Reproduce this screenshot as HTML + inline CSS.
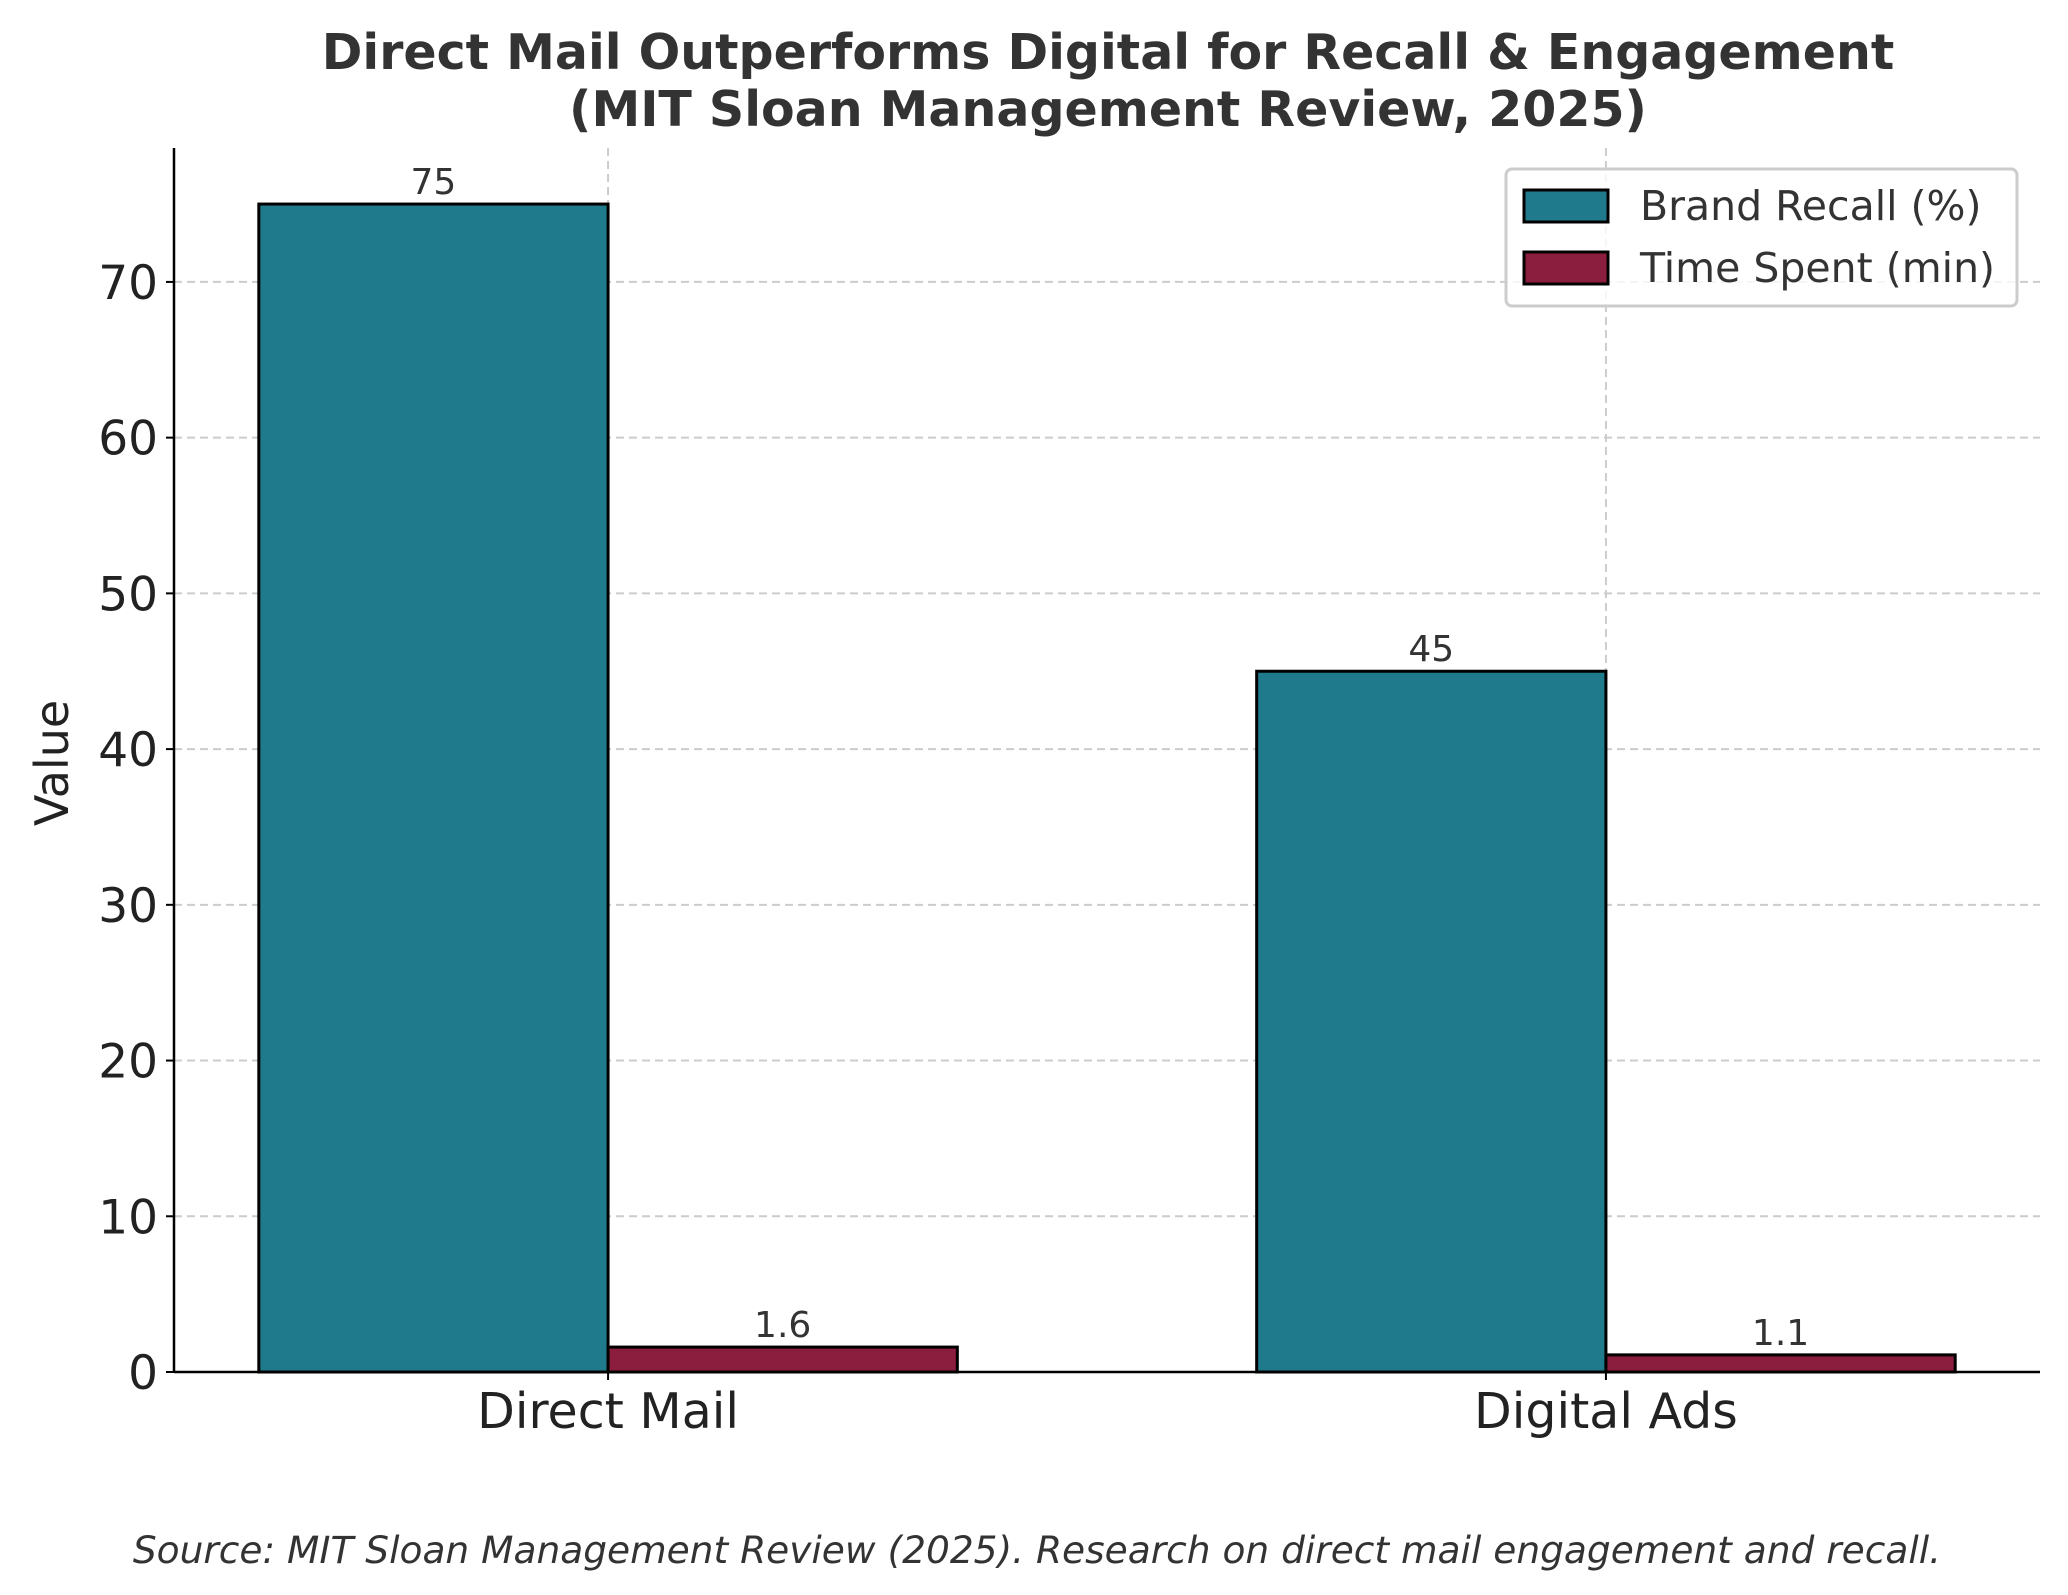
<!DOCTYPE html>
<html><head><meta charset="utf-8"><style>
body{margin:0;background:#fff}
svg{display:block;font-family:"DejaVu Sans","Liberation Sans",sans-serif}
</style></head><body>
<svg id="chart" width="2068" height="1595" viewBox="0 0 2068 1595">
<g>
<text x="1108" y="69" text-anchor="middle" font-size="49" font-weight="bold" fill="#333">Direct Mail Outperforms Digital for Recall &amp; Engagement</text>
<text x="1108" y="126" text-anchor="middle" font-size="49" font-weight="bold" fill="#333">(MIT Sloan Management Review, 2025)</text>
</g>
<g id="grid"></g>
<g id="bars"></g>
<g id="axes"></g>
<text x="68" y="763" transform="rotate(-90 68 763)" text-anchor="middle" font-size="46" fill="#222">Value</text>
<g>
<rect x="1506" y="169" width="511" height="137" rx="6" fill="#fff" fill-opacity="0.8" stroke="#ccc" stroke-width="3"/>
<rect x="1524" y="190" width="84" height="32" fill="#1f7a8c" stroke="#000" stroke-width="3"/>
<text x="1640" y="220" font-size="41" fill="#333">Brand Recall (%)</text>
<rect x="1524" y="252" width="84" height="32" fill="#8b1e3f" stroke="#000" stroke-width="3"/>
<text x="1640" y="282" font-size="41" fill="#333">Time Spent (min)</text>
</g>
<text x="1037" y="1563" text-anchor="middle" font-size="37.5" font-style="italic" fill="#333">Source: MIT Sloan Management Review (2025). Research on direct mail engagement and recall.</text>
</svg>
<script>
const categories = ["Direct Mail", "Digital Ads"];
const brandRecall = [75, 45];
const timeSpent = [1.6, 1.1];
const yTicks = [0, 10, 20, 30, 40, 50, 60, 70];

const NS = "http://www.w3.org/2000/svg";
const L = 174, R = 2040, T = 148, B = 1372;
const xMin = -0.435, xMax = 1.435, yMax = 78.6;
const xs = v => L + (v - xMin) / (xMax - xMin) * (R - L);
const ys = v => B - v / yMax * (B - T);
function mk(tag, attrs, parent) {
  const e = document.createElementNS(NS, tag);
  for (const k in attrs) e.setAttribute(k, attrs[k]);
  parent.appendChild(e);
  return e;
}
const grid = document.getElementById("grid");
const bars = document.getElementById("bars");
const axes = document.getElementById("axes");
yTicks.forEach(t => {
  const g = mk("line", {x1: L, x2: R, y1: ys(t), y2: ys(t), stroke: "#ccc", "stroke-width": 2, "stroke-dasharray": "8,5"}, grid);
  
  
  const tk = mk("line", {x1: L - 8, x2: L, y1: ys(t), y2: ys(t), stroke: "#000", "stroke-width": 2}, axes);
  
  
  const lb = mk("text", {x: L - 16, y: ys(t) + 17, "text-anchor": "end", "font-size": 47, fill: "#222"}, axes);
  lb.textContent = t;
  
  
});
categories.forEach((c, i) => {
  const g = mk("line", {x1: xs(i), x2: xs(i), y1: T, y2: B, stroke: "#ccc", "stroke-width": 2, "stroke-dasharray": "8,5"}, grid);
  
  
  const w = 0.35;
  const specs = [[brandRecall[i], i - w, "#1f7a8c", "bar-brand-recall", String(brandRecall[i])],
                 [timeSpent[i], i, "#8b1e3f", "bar-time-spent", timeSpent[i].toFixed(1)]];
  specs.forEach(([v, x0, col, nm, lab]) => {
    const r = mk("rect", {x: xs(x0), y: ys(v), width: xs(x0 + w) - xs(x0), height: ys(0) - ys(v), fill: col, stroke: "#000", "stroke-width": 3}, bars);
    
    
    const t = mk("text", {x: xs(x0 + w / 2), y: ys(v) - 10, "text-anchor": "middle", "font-size": 36, fill: "#333"}, bars);
    t.textContent = lab;
    
    
  });
  const tk = mk("line", {x1: xs(i), x2: xs(i), y1: B, y2: B + 8, stroke: "#000", "stroke-width": 2}, axes);
  
  
  const lb = mk("text", {x: xs(i), y: B + 56, "text-anchor": "middle", "font-size": 49, fill: "#222"}, axes);
  lb.textContent = c;
  
  
});
const ya = mk("line", {x1: L, x2: L, y1: T, y2: B, stroke: "#000", "stroke-width": 2.5}, axes);


const xa = mk("line", {x1: L, x2: R, y1: B, y2: B, stroke: "#000", "stroke-width": 2.5}, axes);


</script>
</body></html>
